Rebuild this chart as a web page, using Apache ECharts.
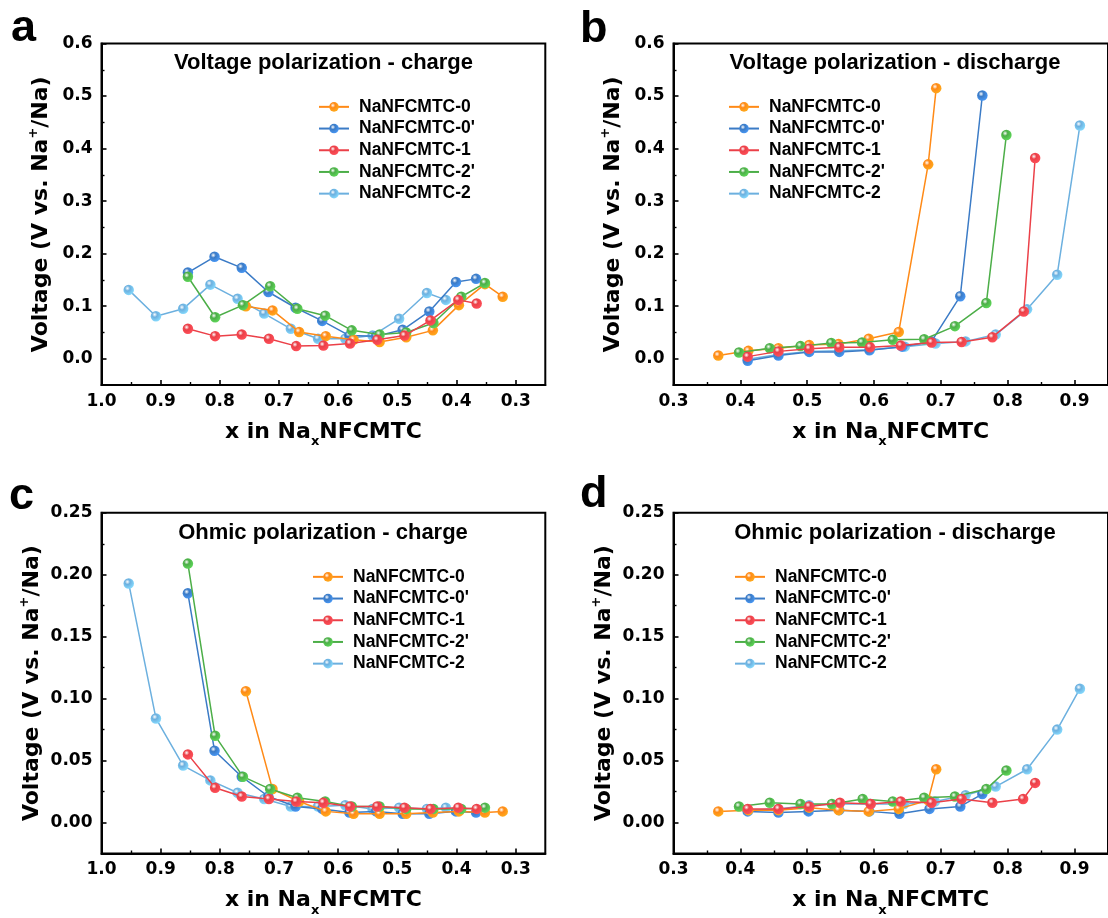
<!DOCTYPE html>
<html><head><meta charset="utf-8">
<script src="https://cdn.jsdelivr.net/npm/echarts@6/dist/echarts.min.js"></script>
<style>html,body{margin:0;padding:0;background:#fff}#c{width:1108px;height:918px}</style>
</head><body><div id="c"></div>
<script>
// ---------- data ----------
const seriesNames = ['NaNFCMTC-0', "NaNFCMTC-0'", 'NaNFCMTC-1', "NaNFCMTC-2'", 'NaNFCMTC-2'];
const panelTitles = ['Voltage polarization - charge', 'Voltage polarization - discharge',
                     'Ohmic polarization - charge', 'Ohmic polarization - discharge'];
const panelLetters = ['a', 'b', 'c', 'd'];

const xTicksCharge = [1.0, 0.9, 0.8, 0.7, 0.6, 0.5, 0.4, 0.3];
const xMinorCharge = [0.95, 0.85, 0.75, 0.65, 0.55, 0.45, 0.35];
const xTicksDischarge = [0.3, 0.4, 0.5, 0.6, 0.7, 0.8, 0.9];
const xMinorDischarge = [0.35, 0.45, 0.55, 0.65, 0.75, 0.85];
const yTicksVoltage = [0.0, 0.1, 0.2, 0.3, 0.4, 0.5, 0.6];
const yMinorVoltage = [0.05, 0.15, 0.25, 0.35, 0.45, 0.55];
const yTicksOhmic = [0.00, 0.05, 0.10, 0.15, 0.20, 0.25];
const yMinorOhmic = [0.025, 0.075, 0.125, 0.175, 0.225];

// (a) Voltage polarization - charge
const vcX0  = [0.756,0.711,0.666,0.621,0.574,0.530,0.485,0.440,0.396,0.352,0.322];
const vcY0  = [0.100,0.092,0.051,0.043,0.036,0.032,0.041,0.054,0.102,0.142,0.118];
const vcX0p = [0.854,0.809,0.763,0.718,0.672,0.627,0.581,0.536,0.491,0.446,0.401,0.367];
const vcY0p = [0.164,0.194,0.173,0.127,0.097,0.072,0.044,0.043,0.055,0.090,0.146,0.152];
const vcX1  = [0.854,0.808,0.763,0.717,0.671,0.625,0.580,0.534,0.488,0.444,0.397,0.366];
const vcY1  = [0.057,0.043,0.046,0.038,0.024,0.025,0.029,0.036,0.044,0.073,0.112,0.105];
const vcX2p = [0.854,0.808,0.761,0.715,0.669,0.622,0.577,0.530,0.485,0.439,0.392,0.352];
const vcY2p = [0.156,0.079,0.102,0.138,0.095,0.082,0.054,0.046,0.050,0.068,0.118,0.144];
const vcX2  = [0.954,0.908,0.862,0.816,0.770,0.725,0.680,0.634,0.588,0.542,0.497,0.450,0.418];
const vcY2  = [0.131,0.081,0.095,0.141,0.114,0.086,0.057,0.038,0.038,0.044,0.076,0.125,0.112];

// (b) Voltage polarization - discharge
const vdX0  = [0.367,0.412,0.457,0.503,0.547,0.592,0.637,0.681,0.693];
const vdY0  = [0.006,0.015,0.020,0.026,0.028,0.038,0.051,0.370,0.515];
const vdX0p = [0.411,0.457,0.503,0.548,0.593,0.642,0.686,0.729,0.762];
const vdY0p = [-0.004,0.006,0.013,0.013,0.016,0.023,0.033,0.119,0.501];
const vdX1  = [0.411,0.457,0.503,0.548,0.594,0.640,0.686,0.731,0.777,0.824,0.841];
const vdY1  = [0.004,0.014,0.019,0.022,0.022,0.025,0.031,0.032,0.041,0.090,0.382];
const vdX2p = [0.398,0.444,0.490,0.536,0.582,0.628,0.675,0.721,0.768,0.798];
const vdY2p = [0.012,0.020,0.024,0.030,0.031,0.036,0.037,0.062,0.106,0.426];
const vdX2  = [0.411,0.457,0.503,0.548,0.594,0.646,0.692,0.737,0.782,0.829,0.874,0.908];
const vdY2  = [-0.001,0.008,0.014,0.015,0.017,0.023,0.029,0.033,0.046,0.094,0.160,0.444];

// (c) Ohmic polarization - charge
const ocX0  = [0.756,0.711,0.666,0.621,0.574,0.530,0.485,0.440,0.396,0.352,0.322];
const ocY0  = [0.106,0.027,0.017,0.009,0.007,0.007,0.007,0.008,0.009,0.008,0.009];
const ocX0p = [0.854,0.809,0.763,0.718,0.672,0.627,0.581,0.536,0.491,0.446,0.401,0.367];
const ocY0p = [0.185,0.058,0.037,0.021,0.013,0.011,0.008,0.009,0.007,0.007,0.009,0.008];
const ocX1  = [0.854,0.808,0.763,0.717,0.671,0.625,0.580,0.534,0.488,0.444,0.397,0.366];
const ocY1  = [0.055,0.028,0.021,0.019,0.017,0.016,0.013,0.013,0.012,0.011,0.012,0.011];
const ocX2p = [0.854,0.808,0.761,0.715,0.669,0.622,0.577,0.530,0.485,0.439,0.392,0.352];
const ocY2p = [0.209,0.070,0.037,0.027,0.020,0.017,0.013,0.013,0.011,0.011,0.011,0.012];
const ocX2  = [0.954,0.908,0.862,0.816,0.770,0.725,0.680,0.634,0.588,0.542,0.497,0.450,0.418];
const ocY2  = [0.193,0.084,0.046,0.034,0.024,0.019,0.013,0.013,0.014,0.011,0.012,0.011,0.012];

// (d) Ohmic polarization - discharge
const odX0  = [0.367,0.412,0.457,0.503,0.547,0.592,0.637,0.681,0.693];
const odY0  = [0.009,0.010,0.010,0.012,0.010,0.009,0.011,0.018,0.043];
const odX0p = [0.411,0.457,0.502,0.548,0.593,0.638,0.683,0.729,0.762];
const odY0p = [0.009,0.008,0.009,0.010,0.009,0.007,0.011,0.013,0.023];
const odX1  = [0.411,0.457,0.503,0.549,0.595,0.640,0.686,0.731,0.777,0.823,0.841];
const odY1  = [0.011,0.011,0.013,0.016,0.015,0.017,0.016,0.019,0.016,0.019,0.032];
const odX2p = [0.398,0.444,0.490,0.537,0.583,0.628,0.675,0.721,0.768,0.798];
const odY2p = [0.013,0.016,0.015,0.015,0.019,0.017,0.020,0.021,0.027,0.042];
const odX2  = [0.411,0.457,0.503,0.548,0.595,0.645,0.691,0.737,0.782,0.829,0.874,0.908];
const odY2  = [0.010,0.011,0.014,0.015,0.015,0.015,0.017,0.022,0.029,0.043,0.075,0.108];

// ---------- styling / layout ----------
const colors = ['#FF8A17', '#3B7BC6', '#EB4048', '#4CAE48', '#6CB0DF'];
const zOrder = [3, 2, 5, 4, 1];
const panelData = [
  [[vcX0,vcY0],[vcX0p,vcY0p],[vcX1,vcY1],[vcX2p,vcY2p],[vcX2,vcY2]],
  [[vdX0,vdY0],[vdX0p,vdY0p],[vdX1,vdY1],[vdX2p,vdY2p],[vdX2,vdY2]],
  [[ocX0,ocY0],[ocX0p,ocY0p],[ocX1,ocY1],[ocX2p,ocY2p],[ocX2,ocY2]],
  [[odX0,odY0],[odX0p,odY0p],[odX1,odY1],[odX2p,odY2p],[odX2,odY2]]
];
const panels = [
  {grid:{left:101.5, top:43.5, width:443.8, height:341.5}, charge:true,  volt:true,  legend:{left:318, top:96},  title:[323.5, 63],  letter:[11, 29]},
  {grid:{left:673.5, top:43.5, width:443.3, height:341.5}, charge:false, volt:true,  legend:{left:728, top:96},  title:[895, 63],    letter:[580, 30]},
  {grid:{left:101.5, top:512.8, width:443.8, height:342.3}, charge:true,  volt:false, legend:{left:312, top:566}, title:[323, 533],   letter:[9, 497]},
  {grid:{left:673.5, top:512.8, width:443.3, height:342.3}, charge:false, volt:false, legend:{left:734, top:566}, title:[895, 533],   letter:[580, 495]}
];

const TICK_FONT = 'DejaVu Sans';
const TEXT_FONT = 'Liberation Sans';

function ball(c) {
  return {type:'radial', x:0.38, y:0.35, r:0.7, colorStops:[
    {offset:0, color:'#ffffff'}, {offset:0.35, color:c}, {offset:1, color:echarts.color.lift(c, -0.25)}]};
}

const grids = [], xAxes = [], yAxes = [], series = [], legends = [], graphics = [];
panels.forEach((p, i) => {
  grids.push(Object.assign({show:true, borderColor:'#000', borderWidth:2, backgroundColor:'transparent'}, p.grid));
  const xMain = xAxes.length;
  const xCommon = p.charge ? {min:0.25, max:1.0, inverse:true} : {min:0.3, max:0.95, inverse:false};
  const xt = p.charge ? xTicksCharge : xTicksDischarge;
  const xm = p.charge ? xMinorCharge : xMinorDischarge;
  xAxes.push(Object.assign({
    type:'value', gridIndex:i, position:'bottom',
    axisLine:{onZero:false, lineStyle:{color:'#000', width:2}},
    axisTick:{inside:true, length:5, customValues:xt, lineStyle:{color:'#000', width:1.6}},
    axisLabel:{customValues:xt, formatter:v => v.toFixed(1), fontFamily:TICK_FONT, fontWeight:'bold', fontSize:17, color:'#000', margin:8},
    splitLine:{show:false},
    name:'{t|x in Na}{s|x}{t|NFCMTC}', nameLocation:'middle', nameGap:34,
    nameTextStyle:{rich:{
      t:{fontFamily:TICK_FONT, fontWeight:'bold', fontSize:22, color:'#000', lineHeight:26, verticalAlign:'middle'},
      s:{fontFamily:TICK_FONT, fontWeight:'bold', fontSize:13, color:'#000', lineHeight:14, verticalAlign:'middle', padding:[20,0,0,0]}
    }}
  }, xCommon));
  xAxes.push(Object.assign({
    type:'value', gridIndex:i, position:'bottom',
    axisLine:{show:false, onZero:false}, axisLabel:{show:false}, splitLine:{show:false},
    axisTick:{inside:true, length:3, customValues:xm, lineStyle:{color:'#000', width:1.4}}
  }, xCommon));

  const yMain = yAxes.length;
  const yCommon = p.volt ? {min:-0.05, max:0.6} : {min:-0.025, max:0.25};
  const yt = p.volt ? yTicksVoltage : yTicksOhmic;
  const ym = p.volt ? yMinorVoltage : yMinorOhmic;
  yAxes.push(Object.assign({
    type:'value', gridIndex:i, position:'left',
    axisLine:{onZero:false, lineStyle:{color:'#000', width:2}},
    axisTick:{inside:true, length:5, customValues:yt, lineStyle:{color:'#000', width:1.6}},
    axisLabel:{customValues:yt, formatter:v => v.toFixed(p.volt ? 1 : 2), fontFamily:TICK_FONT, fontWeight:'bold', fontSize:17, color:'#000', margin:9},
    splitLine:{show:false},
    name:'{t|Voltage (V vs. Na}{u|+}{t|/Na)}', nameLocation:'middle', nameGap:47, nameRotate:90,
    nameTextStyle:{rich:{
      t:{fontFamily:TICK_FONT, fontWeight:'bold', fontSize:22, color:'#000', lineHeight:26, verticalAlign:'middle'},
      u:{fontFamily:TICK_FONT, fontWeight:'bold', fontSize:13, color:'#000', lineHeight:14, verticalAlign:'middle', padding:[0,0,16,0]}
    }}
  }, yCommon));
  yAxes.push(Object.assign({
    type:'value', gridIndex:i, position:'left',
    axisLine:{show:false, onZero:false}, axisLabel:{show:false}, splitLine:{show:false},
    axisTick:{inside:true, length:3, customValues:ym, lineStyle:{color:'#000', width:1.4}}
  }, yCommon));

  panelData[i].forEach((xy, k) => {
    const [xs, ys] = xy;
    series.push({
      type:'line', name:seriesNames[k], xAxisIndex:xMain, yAxisIndex:yMain,
      data: xs.map((x, j) => [x, ys[j]]),
      z: zOrder[k] + 2,
      symbol:'circle', symbolSize:10.5,
      lineStyle:{color:colors[k], width:1.5},
      itemStyle:{color:ball(colors[k]), borderWidth:0},
      emphasis:{disabled:true}
    });
  });

  legends.push({
    data:seriesNames, orient:'vertical', left:p.legend.left, top:p.legend.top, padding:0,
    itemWidth:30, itemHeight:12, itemGap:0, selectedMode:false,
    textStyle:{fontFamily:TEXT_FONT, fontWeight:'bold', fontSize:17.5, color:'#000', lineHeight:21.7, padding:[0,0,0,5]}
  });

  graphics.push({type:'text', style:{x:p.title[0], y:p.title[1], text:panelTitles[i],
    font:'bold 22px "Liberation Sans"', fill:'#000', textAlign:'center', textVerticalAlign:'middle', align:'center', verticalAlign:'middle'}});
  graphics.push({type:'text', style:{x:p.letter[0], y:p.letter[1], text:panelLetters[i],
    font:'bold 45px "Liberation Sans"', fill:'#000', textAlign:'left', textVerticalAlign:'middle', align:'left', verticalAlign:'middle'}});
});

const chart = echarts.init(document.getElementById('c'), null, {renderer:'canvas'});
chart.setOption({
  animation:false,
  backgroundColor:'#fff',
  grid:grids, xAxis:xAxes, yAxis:yAxes, series:series, legend:legends, graphic:graphics
});
</script></body></html>
